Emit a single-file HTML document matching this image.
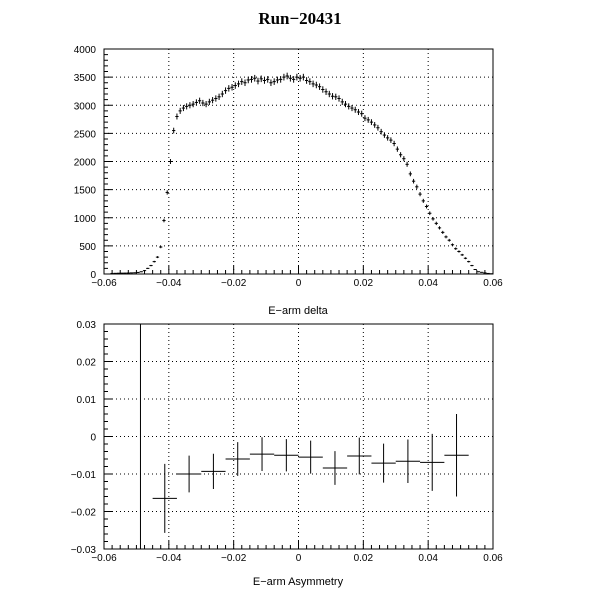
<!DOCTYPE html>
<html><head><meta charset="utf-8"><style>
body{margin:0;background:#fff}
svg text{font-family:"Liberation Sans",sans-serif;font-size:10px;fill:#000}
</style></head><body>
<svg id="c" width="600" height="600" xmlns="http://www.w3.org/2000/svg">
<rect width="600" height="600" fill="#fff"/>
<text x="300" y="24" text-anchor="middle" style="font-family:'Liberation Serif',serif;font-size:17px;font-weight:bold">Run−20431</text>
<g id="topPanel"></g>
<g id="botPanel"></g>
<text x="298" y="314" text-anchor="middle" style="font-size:11px">E−arm delta</text>
<text x="298" y="585" text-anchor="middle" style="font-size:11px">E−arm Asymmetry</text>
</svg>
<script>
const histCounts=[0,0,10,12,14,15,16,18,20,22,
28,40,60,100,150,
220,300,480,950,1450,2000,2550,2800,2900,2950,
2980,3000,3020,3050,3080,3040,3020,3060,3090,3120,
3150,3200,3260,3300,3320,3350,3380,3420,3400,3450,
3460,3480,3430,3470,3440,3460,3400,3420,3450,3460,
3500,3520,3480,3460,3500,3480,3500,3440,3420,3380,
3360,3330,3280,3240,3200,3160,3150,3120,3060,3020,
2980,2950,2920,2880,2850,2770,2740,2700,2650,2600,
2530,2470,2420,2380,2320,2220,2120,2050,1950,1780,
1650,1550,1420,1300,1200,1080,980,900,820,740,
660,600,520,450,400,340,280,220,150,80,
40,30,20,10,5];
const histMin=-0.06, histBinW=0.001;
const asymX=[-0.04875,-0.04125,-0.03375,-0.02625,-0.01875,-0.01125,-0.00375,0.00375,0.01125,0.01875,0.02625,0.03375,0.04125,0.04875];
const asymY=[0,-0.0165,-0.0100,-0.0093,-0.0060,-0.0047,-0.0050,-0.0055,-0.0084,-0.0052,-0.0071,-0.0066,-0.0069,-0.0050];
const asymErr=[0.5,0.0092,0.0049,0.0047,0.0045,0.0045,0.0043,0.0044,0.0045,0.0049,0.0052,0.0058,0.0076,0.011];
const asymHalfW=0.00375;
const xTicks=["-0.06","-0.04","-0.02","0","0.02","0.04","0.06"];
const topYTicks=["0","500","1000","1500","2000","2500","3000","3500","4000"];
const botYTicks=["-0.03","-0.02","-0.01","0","0.01","0.02","0.03"];

const NS="http://www.w3.org/2000/svg";
function mk(p,t,a){const e=document.createElementNS(NS,t);for(const k in a)e.setAttribute(k,a[k]);p.appendChild(e);return e;}
const X0=104,X1=493;
const sx=v=>X0+(v+0.06)/0.12*(X1-X0);

function frame(g,T,B,ymin,ymax,yt,minorStep){
  const sy=v=>B-(v-ymin)/(ymax-ymin)*(B-T);
  xTicks.forEach(t=>{const v=+t;if(v>-0.06&&v<0.06){const l=mk(g,'line',{x1:sx(v),x2:sx(v),y1:T,y2:B,stroke:'#000','stroke-dasharray':'1,3','stroke-width':1});

}});
  yt.forEach(t=>{const v=+t;if(v>ymin&&v<ymax){const l=mk(g,'line',{x1:X0,x2:X1,y1:sy(v),y2:sy(v),stroke:'#000','stroke-dasharray':'1,3','stroke-width':1});

}});
  const r=mk(g,'rect',{x:X0,y:T,width:X1-X0,height:B-T,fill:'none',stroke:'#000','stroke-width':1});
  
  
  for(let i=0;i<=48;i++){const v=-0.06+i*0.0025;const big=i%8==0;mk(g,'line',{x1:sx(v),x2:sx(v),y1:B,y2:B-(big?8:4),stroke:'#000'});}
  xTicks.forEach(t=>{const e=mk(g,'text',{x:sx(+t),y:B+12,'text-anchor':'middle'});e.textContent=t.replace('-','−');

});
  const n=Math.round((ymax-ymin)/minorStep);
  for(let i=0;i<=n;i++){const v=ymin+i*minorStep;const big=i%5==0;mk(g,'line',{x1:X0,x2:X0+(big?8:4),y1:sy(v),y2:sy(v),stroke:'#000'});}
  yt.forEach(t=>{const e=mk(g,'text',{x:X0-8,y:sy(+t)+4,'text-anchor':'end'});e.textContent=t.replace('-','−');

});
  return sy;
}
const topG=document.getElementById('topPanel');
const syT=frame(topG,49,274,0,4000,topYTicks,100);
histCounts.forEach((c,i)=>{
  const xc=histMin+(i+0.5)*histBinW;const e=Math.sqrt(c);
  const g=mk(topG,'g',{});
  
  
  mk(g,'line',{x1:sx(xc-histBinW/2),x2:sx(xc+histBinW/2),y1:syT(c),y2:syT(c),stroke:'#000'});
  mk(g,'line',{x1:sx(xc),x2:sx(xc),y1:syT(Math.min(4000,c+e)),y2:syT(Math.max(0,c-e)),stroke:'#000'});
});
const botG=document.getElementById('botPanel');
const syB=frame(botG,324,549,-0.03,0.03,botYTicks,0.002);
asymX.forEach((x,i)=>{
  const y=asymY[i],er=asymErr[i];
  const g=mk(botG,'g',{});
  
  
  mk(g,'line',{x1:sx(x),x2:sx(x),y1:syB(Math.min(0.03,y+er)),y2:syB(Math.max(-0.03,y-er)),stroke:'#000'});
  if(er<0.1)mk(g,'line',{x1:sx(x-asymHalfW),x2:sx(x+asymHalfW),y1:syB(y),y2:syB(y),stroke:'#000'});
});
</script>
</body></html>
